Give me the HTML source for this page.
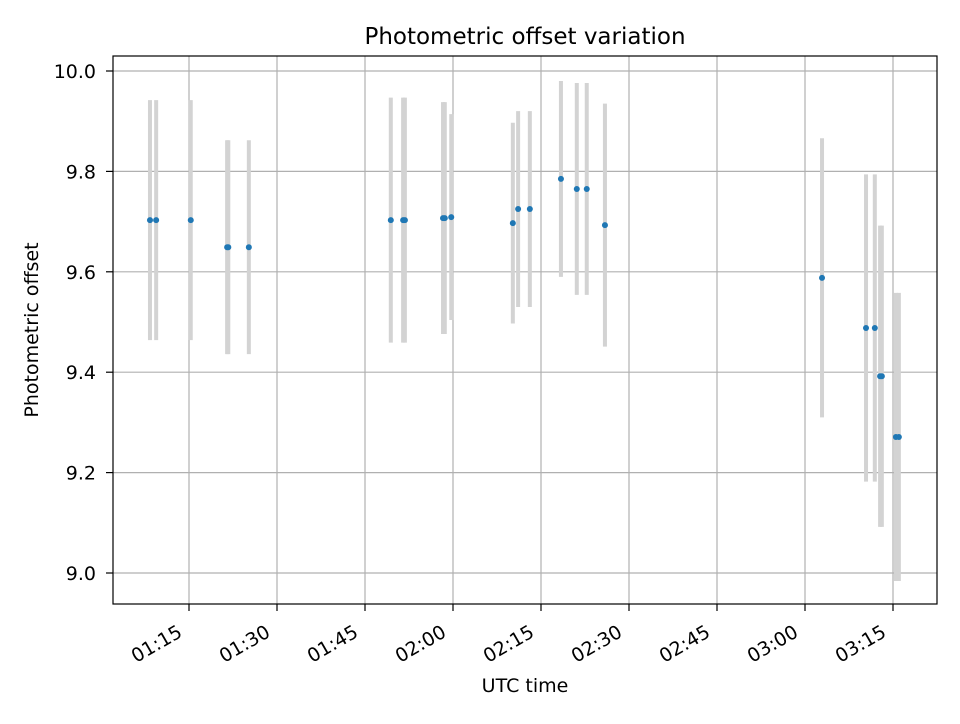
<!DOCTYPE html>
<html><head><meta charset="utf-8"><style>
body{margin:0;background:#fff;font-family:"DejaVu Sans","Liberation Sans",sans-serif}
svg text{font-family:"DejaVu Sans","Liberation Sans",sans-serif}
</style></head><body>
<svg id="c" width="960" height="720" xmlns="http://www.w3.org/2000/svg"></svg>
<script>
// minutes since 01:00 UTC
const times=[68.35,69.4,75.3,81.5,81.7,85.2,109.4,111.5,111.8,118.3,118.6,119.7,130.2,131.1,133.1,138.4,141.1,142.8,145.9,182.9,190.4,191.9,192.8,193.1,195.5,196.0];
const values=[9.703,9.703,9.703,9.649,9.649,9.649,9.703,9.703,9.703,9.707,9.707,9.709,9.697,9.725,9.725,9.785,9.765,9.765,9.693,9.588,9.488,9.488,9.392,9.392,9.271,9.271];
const errors=[0.239,0.239,0.239,0.213,0.213,0.213,0.244,0.244,0.244,0.231,0.231,0.205,0.2,0.195,0.195,0.195,0.211,0.211,0.242,0.278,0.306,0.306,0.30,0.30,0.287,0.287];
const xTicks=[75,90,105,120,135,150,165,180,195];
const xTickLabels=["01:15","01:30","01:45","02:00","02:15","02:30","02:45","03:00","03:15"];
const yTicks=[9.0,9.2,9.4,9.6,9.8,10.0];
const yTickLabels=["9.0","9.2","9.4","9.6","9.8","10.0"];

const L=113,R=937,T=56,B=604;
const X=m=>189+(m-75)*88/15;
const Y=v=>71+(10-v)*502;
const svg=document.getElementById('c');
const NS='http://www.w3.org/2000/svg';
function mk(tag,attrs,parent){const e=document.createElementNS(NS,tag);for(const k in attrs)e.setAttribute(k,attrs[k]);(parent||svg).appendChild(e);return e;}

const grid=mk('g',{});


xTicks.forEach((t,i)=>{
  const x=X(t);
  const l=mk('line',{x1:x,x2:x,y1:T,y2:B,stroke:'#b0b0b0','stroke-width':1.2},grid);
  
  
  const tk=mk('line',{x1:x,x2:x,y1:B,y2:B+7,stroke:'#000','stroke-width':1.2});
  
  
  const tx=mk('text',{x:0,y:0,'font-size':19,'text-anchor':'end',transform:'rotate(-30)'});
  tx.textContent=xTickLabels[i];
  
  
  const bb=tx.getBoundingClientRect();
  const sb=svg.getBoundingClientRect();
  const dx=(x-3)-(bb.right-sb.left), dy=621-(bb.top-sb.top);
  tx.setAttribute('transform',`translate(${dx} ${dy}) rotate(-30)`);
});
yTicks.forEach((t,i)=>{
  const y=Y(t);
  const l=mk('line',{x1:L,x2:R,y1:y,y2:y,stroke:'#b0b0b0','stroke-width':1.2},grid);
  
  
  const tk=mk('line',{x1:L-7,x2:L,y1:y,y2:y,stroke:'#000','stroke-width':1.2});
  
  
  const tx=mk('text',{x:L-17,y:y+7,'font-size':19,'text-anchor':'end'});
  tx.textContent=yTickLabels[i];
  
  
});
const eb=mk('g',{});


times.forEach((t,i)=>{
  const x=X(t);
  const l=mk('line',{x1:x,x2:x,y1:Y(values[i]+errors[i]),y2:Y(values[i]-errors[i]),stroke:'#d3d3d3','stroke-width':4},eb);
  
  
});
const pts=mk('g',{});


times.forEach((t,i)=>{
  const c=mk('circle',{cx:X(t),cy:Y(values[i]),r:3,fill:'#1f77b4'},pts);
  
  
});
const fr=mk('rect',{x:L,y:T,width:R-L,height:B-T,fill:'none',stroke:'#000','stroke-width':1.2});


const ti=mk('text',{x:(L+R)/2,y:44,'font-size':23,'text-anchor':'middle'});
ti.textContent='Photometric offset variation';


const xt=mk('text',{x:(L+R)/2,y:692,'font-size':19,'text-anchor':'middle'});
xt.textContent='UTC time';


const yt=mk('text',{x:38,y:(T+B)/2,'font-size':19,'text-anchor':'middle',transform:`rotate(-90 38 ${(T+B)/2})`});
yt.textContent='Photometric offset';


</script>
</body></html>
